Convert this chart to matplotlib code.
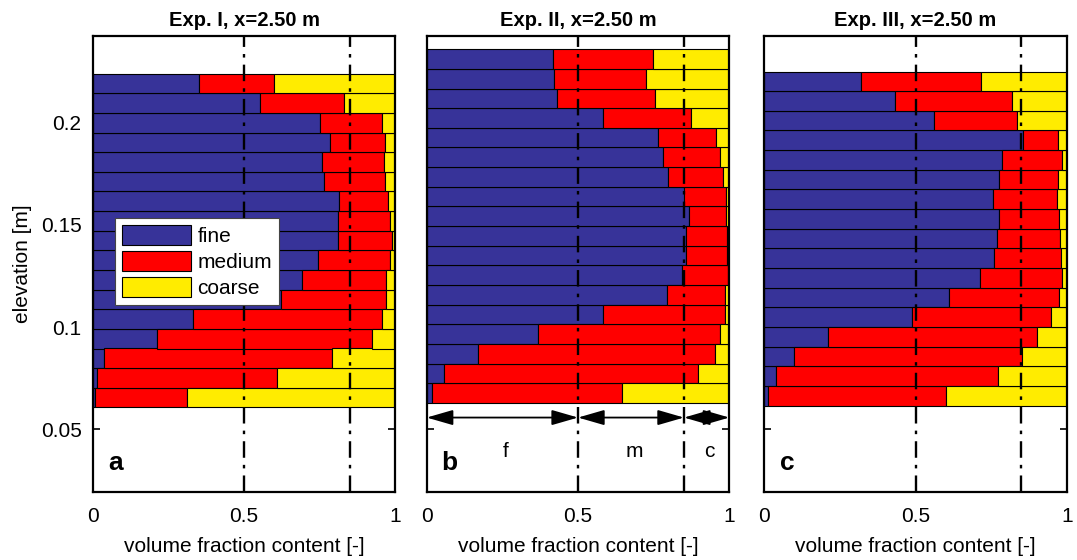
import numpy as np
import matplotlib
matplotlib.use('Agg')
import matplotlib.pyplot as plt

plt.rcParams['font.family'] = ['Liberation Sans', 'DejaVu Sans']

# layer bottoms [m] and grain-size fractions, listed bottom -> top
dz = 0.0096

z_exp1 = [0.0608, 0.0704, 0.0800, 0.0895, 0.0991, 0.1087, 0.1183, 0.1279, 0.1374,
          0.1470, 0.1566, 0.1662, 0.1758, 0.1853, 0.1949, 0.2045, 0.2141]
fine_exp1 = [0.008, 0.015, 0.038, 0.211, 0.332, 0.623, 0.690, 0.743, 0.810,
             0.812, 0.815, 0.764, 0.756, 0.784, 0.752, 0.553, 0.351]
medium_exp1 = [0.302, 0.593, 0.752, 0.713, 0.625, 0.347, 0.279, 0.238, 0.178,
               0.171, 0.160, 0.201, 0.205, 0.182, 0.205, 0.277, 0.249]
coarse_exp1 = [0.690, 0.392, 0.210, 0.076, 0.043, 0.030, 0.031, 0.019, 0.012,
               0.017, 0.025, 0.035, 0.039, 0.034, 0.043, 0.170, 0.400]

z_exp2 = [0.0629, 0.0725, 0.0821, 0.0917, 0.1013, 0.1109, 0.1205, 0.1301, 0.1397,
          0.1493, 0.1589, 0.1685, 0.1781, 0.1877, 0.1973, 0.2069, 0.2165, 0.2261]
fine_exp2 = [0.019, 0.058, 0.170, 0.368, 0.584, 0.793, 0.842, 0.857, 0.857,
             0.866, 0.849, 0.797, 0.780, 0.763, 0.582, 0.429, 0.419, 0.418]
medium_exp2 = [0.626, 0.839, 0.784, 0.602, 0.400, 0.194, 0.154, 0.135, 0.134,
               0.123, 0.140, 0.181, 0.190, 0.194, 0.291, 0.326, 0.305, 0.331]
coarse_exp2 = [0.355, 0.103, 0.046, 0.030, 0.016, 0.013, 0.004, 0.008, 0.009,
               0.011, 0.011, 0.022, 0.030, 0.043, 0.127, 0.245, 0.276, 0.251]

z_exp3 = [0.0616, 0.0712, 0.0808, 0.0904, 0.1000, 0.1096, 0.1192, 0.1288, 0.1384,
          0.1480, 0.1576, 0.1672, 0.1768, 0.1864, 0.1960, 0.2056, 0.2152]
fine_exp3 = [0.011, 0.038, 0.098, 0.212, 0.488, 0.611, 0.712, 0.759, 0.768,
             0.776, 0.756, 0.776, 0.785, 0.854, 0.560, 0.432, 0.319]
medium_exp3 = [0.588, 0.734, 0.754, 0.689, 0.461, 0.362, 0.271, 0.221, 0.209,
               0.197, 0.213, 0.195, 0.198, 0.118, 0.274, 0.386, 0.398]
coarse_exp3 = [0.401, 0.228, 0.148, 0.099, 0.051, 0.027, 0.017, 0.020, 0.023,
               0.027, 0.031, 0.029, 0.017, 0.028, 0.166, 0.182, 0.283]

titles = ['Exp. I, x=2.50 m', 'Exp. II, x=2.50 m', 'Exp. III, x=2.50 m']
letters = ['a', 'b', 'c']
class_names = ['fine', 'medium', 'coarse']
class_colors = ['#373399', '#ff0000', '#ffec00']
limits = [0.5, 0.85]          # fine/medium and medium/coarse thresholds

experiments = [
    (z_exp1, fine_exp1, medium_exp1, coarse_exp1),
    (z_exp2, fine_exp2, medium_exp2, coarse_exp2),
    (z_exp3, fine_exp3, medium_exp3, coarse_exp3),
]

fig = plt.figure(figsize=(10.77, 5.6), dpi=100)
lefts = [0.0861, 0.3962, 0.7096]
axes = [fig.add_axes([l, 0.122, 0.281, 0.8143]) for l in lefts]

for k, (ax, (z, f, m, c)) in enumerate(zip(axes, experiments)):
    f = np.array(f)
    m = np.array(m)
    c = np.array(c)
    ax.barh(z, f, height=dz, align='edge', color=class_colors[0],
            edgecolor='k', linewidth=0.8, label=class_names[0], zorder=2)
    ax.barh(z, m, left=f, height=dz, align='edge', color=class_colors[1],
            edgecolor='k', linewidth=0.8, label=class_names[1], zorder=2)
    ax.barh(z, c, left=f + m, height=dz, align='edge', color=class_colors[2],
            edgecolor='k', linewidth=0.8, label=class_names[2], zorder=2)
    for xv in limits:
        ax.axvline(xv, color='k', lw=1.7, ls=(0, (7, 3, 1.5, 3)), zorder=3)

    ax.set_xlim(0, 1)
    ax.set_ylim(0.0196, 0.2423)
    ax.set_xticks([0, 0.5, 1])
    ax.set_xticklabels(['0', '0.5', '1'])
    ax.set_yticks([0.05, 0.1, 0.15, 0.2])
    if k == 0:
        ax.set_yticklabels(['0.05', '0.1', '0.15', '0.2'])
        ax.set_ylabel('elevation [m]', fontsize=15, labelpad=6)
    else:
        ax.set_yticklabels([])
    ax.tick_params(direction='in', top=True, right=True, labelsize=15,
                   length=5, width=1.2)
    ax.tick_params(axis='x', pad=11)
    ax.tick_params(axis='y', pad=8)
    for sp in ax.spines.values():
        sp.set_linewidth(1.6)
        sp.set_zorder(4)
    ax.set_title(titles[k], fontsize=14.5, fontweight='bold', pad=7)
    ax.set_xlabel('volume fraction content [-]', fontsize=15, labelpad=8)
    ax.text(0.076, 0.0336, letters[k], fontsize=19, fontweight='bold',
            ha='center', va='center', zorder=5)

# legend in panel a
leg = axes[0].legend(loc='upper left', bbox_to_anchor=(0.074, 0.60),
                     borderaxespad=0, fontsize=15, handlelength=3.3,
                     handleheight=1.05, handletextpad=0.3, labelspacing=0.25,
                     borderpad=0.35, fancybox=False, framealpha=1,
                     edgecolor='#444444')
leg.get_frame().set_linewidth(0.8)
leg.set_zorder(6)

# class ranges marked below the profile in panel b
ax_b = axes[1]
arrow_y = 0.0558
bounds = [0, limits[0], limits[1], 1]
for x0, x1, lab in zip(bounds[:-1], bounds[1:], ['f', 'm', 'c']):
    ax_b.annotate('', xy=(x1, arrow_y), xytext=(x0, arrow_y),
                  arrowprops=dict(arrowstyle='<|-|>,head_length=0.9,head_width=0.26',
                                  mutation_scale=18, color='k', lw=1.3,
                                  shrinkA=0, shrinkB=0), zorder=5)
    ax_b.text((x0 + x1) / 2 + 0.01, 0.0393, lab, fontsize=15, ha='center', va='center')

fig.savefig('out.png', dpi=100)
